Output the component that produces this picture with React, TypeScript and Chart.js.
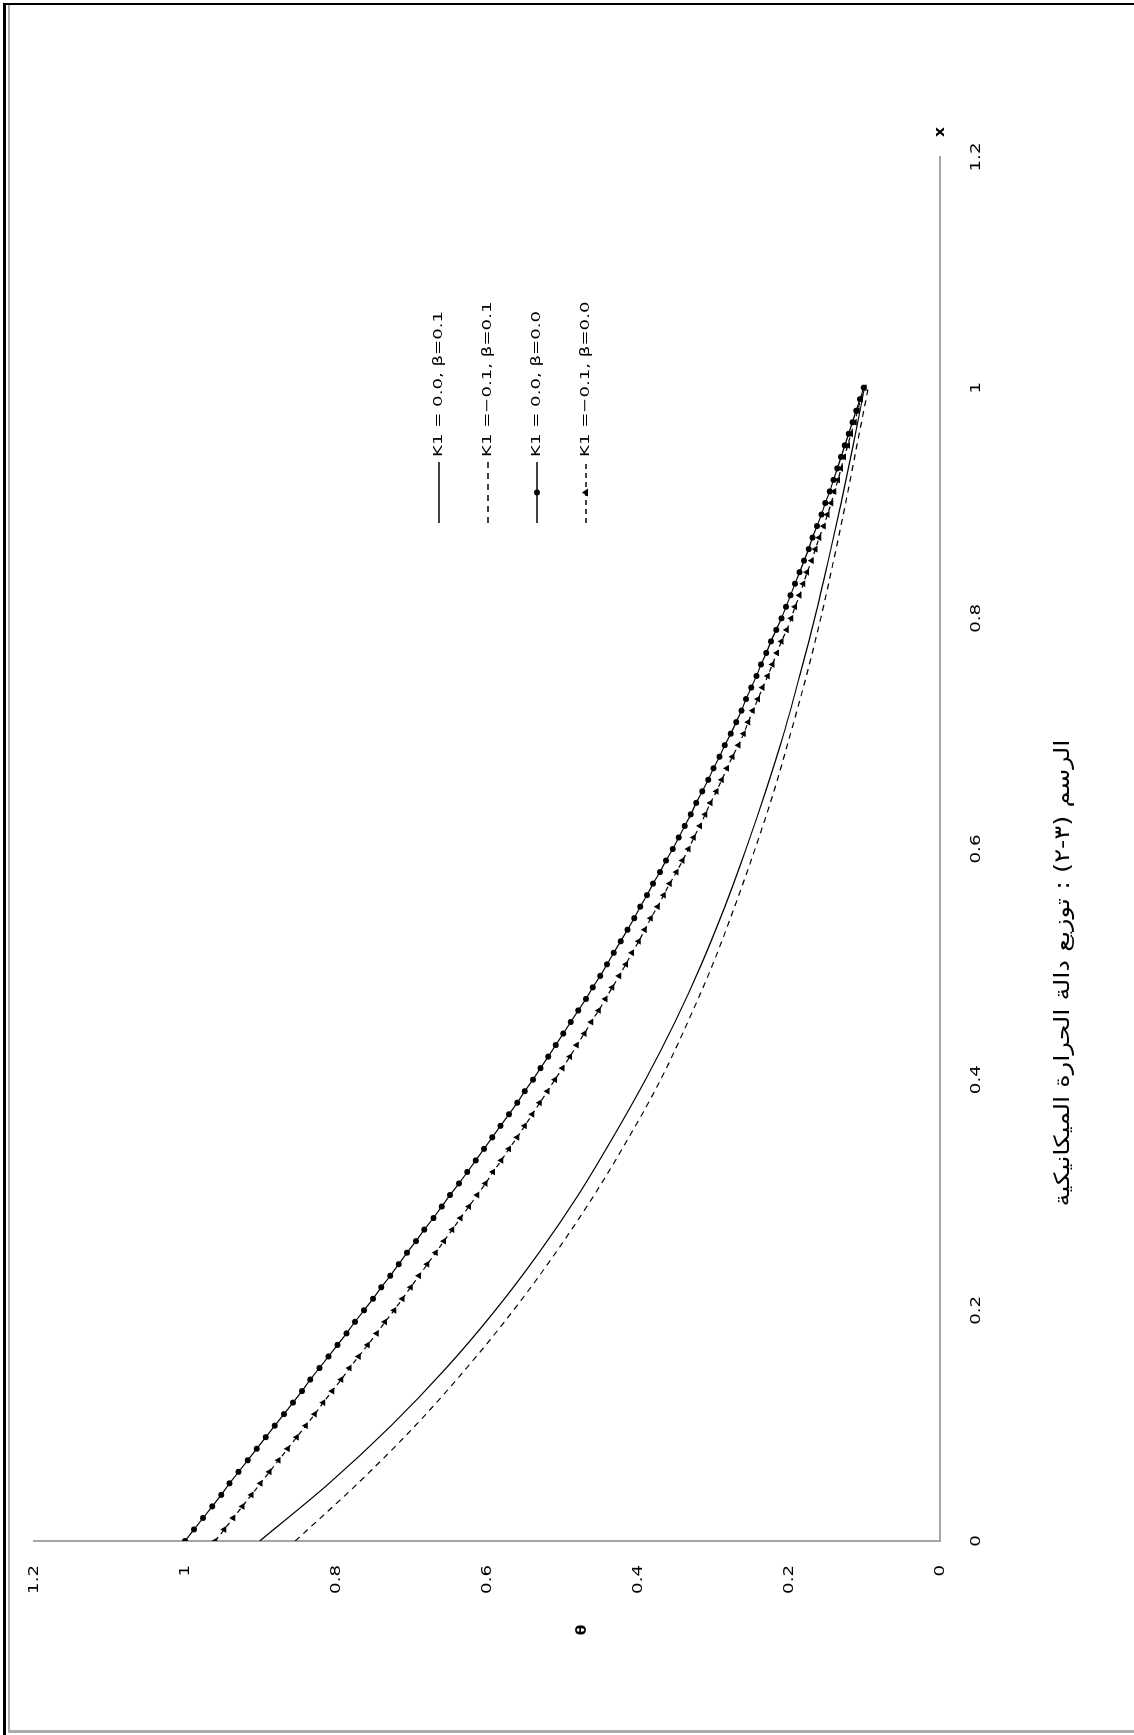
import React, { useEffect, useRef } from 'react';
import { Chart, registerables } from 'chart.js';

Chart.register(...registerables);

// Fine grid for the two marked series (one marker per 0.01 step in x)
const xFine = [
  0, 0.01, 0.02, 0.03, 0.04, 0.05, 0.06, 0.07, 0.08, 0.09,
  0.1, 0.11, 0.12, 0.13, 0.14, 0.15, 0.16, 0.17, 0.18, 0.19,
  0.2, 0.21, 0.22, 0.23, 0.24, 0.25, 0.26, 0.27, 0.28, 0.29,
  0.3, 0.31, 0.32, 0.33, 0.34, 0.35, 0.36, 0.37, 0.38, 0.39,
  0.4, 0.41, 0.42, 0.43, 0.44, 0.45, 0.46, 0.47, 0.48, 0.49,
  0.5, 0.51, 0.52, 0.53, 0.54, 0.55, 0.56, 0.57, 0.58, 0.59,
  0.6, 0.61, 0.62, 0.63, 0.64, 0.65, 0.66, 0.67, 0.68, 0.69,
  0.7, 0.71, 0.72, 0.73, 0.74, 0.75, 0.76, 0.77, 0.78, 0.79,
  0.8, 0.81, 0.82, 0.83, 0.84, 0.85, 0.86, 0.87, 0.88, 0.89,
  0.9, 0.91, 0.92, 0.93, 0.94, 0.95, 0.96, 0.97, 0.98, 0.99,
  1.0,
];

// K1 = 0.0, beta = 0.0 (solid line, circles)
const thetaK0B0 = [
  1.0, 0.988, 0.976, 0.964, 0.952, 0.941, 0.929, 0.917, 0.905, 0.893,
  0.881, 0.869, 0.857, 0.845, 0.834, 0.822, 0.81, 0.798, 0.786, 0.775,
  0.763, 0.751, 0.74, 0.728, 0.717, 0.706, 0.694, 0.683, 0.671, 0.66,
  0.649, 0.637, 0.626, 0.615, 0.604, 0.593, 0.582, 0.571, 0.56, 0.55,
  0.539, 0.529, 0.519, 0.509, 0.499, 0.489, 0.479, 0.469, 0.46, 0.45,
  0.441, 0.432, 0.423, 0.414, 0.405, 0.397, 0.388, 0.38, 0.371, 0.363,
  0.354, 0.346, 0.338, 0.33, 0.323, 0.315, 0.307, 0.3, 0.292, 0.285,
  0.277, 0.27, 0.263, 0.257, 0.25, 0.243, 0.237, 0.23, 0.224, 0.217,
  0.21, 0.204, 0.198, 0.192, 0.186, 0.18, 0.174, 0.169, 0.163, 0.157,
  0.152, 0.146, 0.141, 0.136, 0.131, 0.126, 0.121, 0.116, 0.111, 0.106,
  0.101,
];

// K1 = -0.1, beta = 0.0 (dashed line, triangles)
const thetaKm1B0 = [
  0.96, 0.948, 0.936, 0.924, 0.912, 0.9, 0.888, 0.876, 0.864, 0.852,
  0.84, 0.828, 0.817, 0.805, 0.793, 0.782, 0.77, 0.758, 0.746, 0.735,
  0.723, 0.712, 0.701, 0.69, 0.679, 0.668, 0.657, 0.646, 0.635, 0.624,
  0.613, 0.602, 0.592, 0.581, 0.571, 0.56, 0.55, 0.54, 0.53, 0.52,
  0.51, 0.5, 0.49, 0.481, 0.471, 0.462, 0.452, 0.443, 0.434, 0.425,
  0.416, 0.408, 0.399, 0.391, 0.383, 0.374, 0.366, 0.358, 0.349, 0.341,
  0.333, 0.326, 0.318, 0.311, 0.304, 0.296, 0.289, 0.282, 0.275, 0.267,
  0.26, 0.254, 0.248, 0.241, 0.235, 0.228, 0.222, 0.216, 0.21, 0.203,
  0.197, 0.192, 0.186, 0.181, 0.176, 0.17, 0.165, 0.16, 0.154, 0.149,
  0.144, 0.14, 0.135, 0.131, 0.127, 0.122, 0.118, 0.113, 0.109, 0.105,
  0.1,
];

// Coarser grid for the two plain curves
const xCoarse = [
  0, 0.05, 0.1, 0.15, 0.2, 0.25, 0.3, 0.35, 0.4, 0.45,
  0.5, 0.55, 0.6, 0.65, 0.7, 0.75, 0.8, 0.85, 0.9, 0.95, 1.0,
];

// K1 = 0.0, beta = 0.1 (solid line)
const thetaK0B1 = [
  0.901, 0.809, 0.727, 0.654, 0.589, 0.531, 0.479, 0.433, 0.39, 0.351,
  0.316, 0.285, 0.257, 0.231, 0.207, 0.186, 0.166, 0.148, 0.131, 0.115, 0.1,
];

// K1 = -0.1, beta = 0.1 (dashed line)
const thetaKm1B1 = [
  0.854, 0.771, 0.695, 0.627, 0.565, 0.509, 0.458, 0.412, 0.37, 0.334,
  0.301, 0.272, 0.245, 0.22, 0.198, 0.177, 0.158, 0.141, 0.125, 0.11, 0.095,
];

const seriesLabels = [
  'K1 = 0.0, β=0.1',
  'K1 =−0.1, β=0.1',
  'K1 = 0.0, β=0.0',
  'K1 =−0.1, β=0.0',
];

const xTickValues = [0, 0.2, 0.4, 0.6, 0.8, 1, 1.2];
const xTickLabels = ['0', '0.2', '0.4', '0.6', '0.8', '1', '1.2'];
const thetaTickValues = [0, 0.2, 0.4, 0.6, 0.8, 1, 1.2];
const thetaTickLabels = ['0', '0.2', '0.4', '0.6', '0.8', '1', '1.2'];

const xTitle = 'x';
const thetaTitle = 'θ';
const caption = 'الرسم (٣-٢) : توزيع دالة الحرارة الميكانيكية';

// Chart is laid out landscape and then turned a quarter turn on the page
const W = 1735;
const H = 1134;

const AXIS_GREY = '#a6a6a6';
const TICK_FONT = '14px "DejaVu Sans"';
const TICK_STRETCH = 1.3;

function toPoints(xs: number[], ys: number[]) {
  return xs.map((x, i) => ({ x, y: ys[i] }));
}

function drawWideText(
  ctx: CanvasRenderingContext2D,
  text: string,
  x: number,
  y: number,
  sx: number,
  align: CanvasTextAlign,
  font: string,
  rtl = false,
) {
  ctx.save();
  ctx.translate(x, y);
  ctx.scale(sx, 1);
  ctx.font = font;
  ctx.direction = rtl ? 'rtl' : 'ltr';
  ctx.textAlign = align;
  ctx.textBaseline = 'middle';
  ctx.fillStyle = '#000';
  ctx.fillText(text, 0, 0);
  ctx.restore();
}

function drawMarker(ctx: CanvasRenderingContext2D, style: string, x: number, y: number, r: number) {
  ctx.save();
  ctx.setLineDash([]);
  ctx.fillStyle = '#000';
  ctx.beginPath();
  if (style === 'circle') {
    ctx.arc(x, y, r, 0, Math.PI * 2);
  } else if (style === 'triangle') {
    const h = r * 1.5;
    ctx.moveTo(x, y - h * 0.67);
    ctx.lineTo(x + r, y + h * 0.33);
    ctx.lineTo(x - r, y + h * 0.33);
    ctx.closePath();
  }
  ctx.fill();
  ctx.restore();
}

const annotationPlugin = {
  id: 'annotations',
  afterDraw(chart: any) {
    const { ctx, chartArea, scales } = chart;
    const xs = scales.x;
    const ys = scales.y;

    // tick labels
    xTickValues.forEach((v, i) => {
      drawWideText(ctx, xTickLabels[i], xs.getPixelForValue(v), chartArea.bottom + 36, TICK_STRETCH, 'center', TICK_FONT);
    });
    thetaTickValues.forEach((v, i) => {
      drawWideText(ctx, thetaTickLabels[i], chartArea.left - 24, ys.getPixelForValue(v), TICK_STRETCH, 'right', TICK_FONT);
    });

    // axis titles
    drawWideText(ctx, xTitle, chartArea.right + 25, chartArea.bottom, 1.1, 'center', 'bold 14px "DejaVu Sans"');
    drawWideText(ctx, thetaTitle, chartArea.left - 89, 582, 1.1, 'center', 'bold 14px "DejaVu Sans"');

    // legend
    const legendV = [439, 488, 537, 586];
    const lineStart = 1212;
    const lineEnd = 1273;
    const legendFont = '13px "DejaVu Sans"';
    ctx.save();
    ctx.font = legendFont;
    const refWidth = ctx.measureText(seriesLabels[0]).width;
    ctx.restore();
    const legendStretch = 146 / refWidth;
    chart.data.datasets.forEach((ds: any, i: number) => {
      const v = legendV[i];
      ctx.save();
      ctx.strokeStyle = '#000';
      ctx.lineWidth = 1.3;
      ctx.setLineDash(ds.borderDash || []);
      ctx.beginPath();
      ctx.moveTo(lineStart, v);
      ctx.lineTo(lineEnd, v);
      ctx.stroke();
      ctx.restore();
      if (ds.pointRadius > 0) {
        drawMarker(ctx, ds.pointStyle, (lineStart + lineEnd) / 2, v, ds.pointRadius);
      }
      drawWideText(ctx, seriesLabels[i], 1278, v, legendStretch, 'left', legendFont);
    });

    // figure caption
    const capFont = '21px "DejaVu Sans"';
    ctx.save();
    ctx.font = capFont;
    ctx.direction = 'rtl';
    const capWidth = ctx.measureText(caption).width;
    ctx.restore();
    drawWideText(ctx, caption, 762, 1064, 467 / capWidth, 'center', capFont, true);
  },
};

function ThetaChart() {
  const canvasRef = useRef<HTMLCanvasElement | null>(null);

  useEffect(() => {
    document.documentElement.style.overflow = 'hidden';
    document.body.style.margin = '0';
    const canvas = canvasRef.current;
    if (!canvas) return;

    const chart = new Chart(canvas, {
      type: 'line',
      data: {
        datasets: [
          {
            label: seriesLabels[0],
            data: toPoints(xCoarse, thetaK0B1),
            borderColor: '#000',
            borderWidth: 1.2,
            pointRadius: 0,
            cubicInterpolationMode: 'monotone',
          },
          {
            label: seriesLabels[1],
            data: toPoints(xCoarse, thetaKm1B1),
            borderColor: '#000',
            borderWidth: 1.2,
            borderDash: [6, 5],
            pointRadius: 0,
            cubicInterpolationMode: 'monotone',
          },
          {
            label: seriesLabels[2],
            data: toPoints(xFine, thetaK0B0),
            borderColor: '#000',
            borderWidth: 1.2,
            pointRadius: 3,
            pointStyle: 'circle',
            pointBackgroundColor: '#000',
            pointBorderColor: '#000',
            pointBorderWidth: 0,
          },
          {
            label: seriesLabels[3],
            data: toPoints(xFine, thetaKm1B0),
            borderColor: '#000',
            borderWidth: 1.2,
            borderDash: [5, 4],
            pointRadius: 4,
            pointStyle: 'triangle',
            pointBackgroundColor: '#000',
            pointBorderColor: '#000',
            pointBorderWidth: 0,
          },
        ] as any,
      },
      options: {
        animation: false,
        responsive: false,
        devicePixelRatio: 1,
        layout: { padding: { left: 194, right: 157, top: 34, bottom: 194 } },
        plugins: {
          legend: { display: false },
          tooltip: { enabled: false },
          title: { display: false },
        },
        scales: {
          x: {
            type: 'linear',
            min: 0,
            max: 1.2,
            grid: { display: false, drawTicks: false, tickLength: 0 },
            ticks: { display: false },
            border: { display: true, color: AXIS_GREY, width: 2 },
          },
          y: {
            type: 'linear',
            min: 0,
            max: 1.2,
            grid: { display: false, drawTicks: false, tickLength: 0 },
            ticks: { display: false },
            border: { display: true, color: AXIS_GREY, width: 2 },
          },
        },
      } as any,
      plugins: [annotationPlugin],
    });

    return () => chart.destroy();
  }, []);

  return (
    <div
      style={{
        position: 'absolute',
        left: 0,
        top: 0,
        width: W,
        height: H,
        transformOrigin: '0 0',
        transform: `translateY(${W}px) rotate(-90deg)`,
        background: '#fff',
      }}
    >
      <canvas ref={canvasRef} width={W} height={H} style={{ display: 'block', width: W, height: H }} />
    </div>
  );
}

export default function App() {
  return (
    <div style={{ position: 'absolute', left: 0, top: 0, width: 1134, height: 1735, overflow: 'hidden', background: '#fff' }}>
      <ThetaChart />
      {/* page frame */}
      <div style={{ position: 'absolute', left: 3, top: 3, width: 1131, height: 2, background: '#000' }} />
      <div style={{ position: 'absolute', left: 3, top: 3, width: 3, height: 1732, background: '#000' }} />
      <div style={{ position: 'absolute', left: 8, top: 5, width: 2, height: 1728, background: '#aaa' }} />
      <div style={{ position: 'absolute', left: 8, top: 1730, width: 1126, height: 3, background: '#aaa' }} />
    </div>
  );
}
